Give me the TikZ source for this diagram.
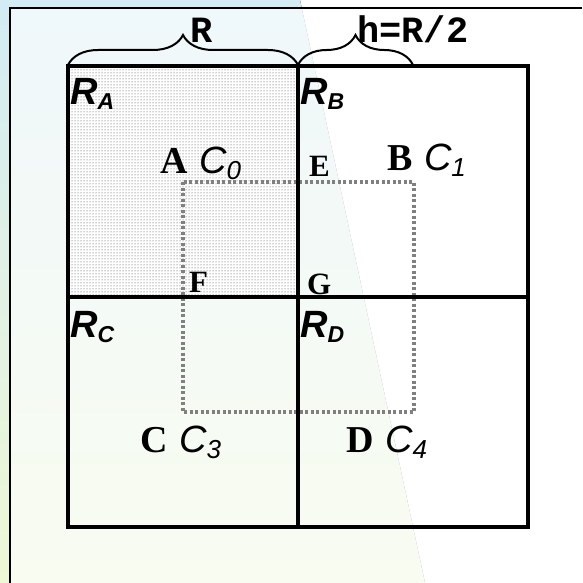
\documentclass[tikz,border=0pt]{standalone}
\usepackage{fontspec}
\usepackage{tikz}
\usetikzlibrary{patterns,decorations.pathreplacing}
\usepackage{xcolor}
\newfontfamily\quadsans{Liberation Sans}
\newfontfamily\quadserif{Liberation Serif}
\newfontfamily\quadmono{Liberation Mono}
\definecolor{quadSky}{HTML}{D3EBF3}
\definecolor{quadLime}{HTML}{EEF7D6}
\definecolor{quadDot}{HTML}{808080}
\newcommand{\quadsub}[3]{\raisebox{-#2pt}{\fontsize{#1}{#1}\selectfont #3}}

\begin{document}
\begin{tikzpicture}[x=1pt,y=-1pt,
  region/.style={anchor=base west,inner sep=0pt,font={\quadsans\bfseries\itshape\fontsize{38}{38}\selectfont}},
  corner/.style={anchor=base west,inner sep=0pt,font={\fontsize{38}{38}\selectfont}},
  midpt/.style={anchor=base west,inner sep=0pt,font={\quadserif\bfseries\fontsize{31}{31}\selectfont}},
  span/.style={anchor=base west,inner sep=0pt,font={\quadmono\bfseries\fontsize{37}{37}\selectfont}},
  bracket/.style={line width=2pt,decorate,decoration={brace,amplitude=30pt}}]
\useasboundingbox (0,0) rectangle (582,583);
% background
\fill[white] (0,0) rectangle (582,583);
\fill[top color=quadSky,bottom color=quadLime] (0,0) -- (300,0) -- (425,583) -- (0,583) -- cycle;
\fill[white,opacity=.65] (10,8) rectangle (582,583);
\draw[line width=2.5pt] (582,8) -- (10,8) -- (10,583);
% shaded quarter
\fill[white] (68,66) rectangle (298,297);
\fill[pattern=dots,pattern color=black!75] (68,66) rectangle (298,297);
% shifted square
\draw[quadDot,line width=3.5pt,dash pattern=on 3pt off 2.5pt] (183,182) rectangle (414,412);
% quarters
\draw[line width=3.2pt] (68,66) rectangle (528,527);
\draw[line width=3.2pt] (298,66) -- (298,527) (68,297) -- (528,297);
% braces
\coordinate (bl) at (68,65);
\coordinate (bm) at (298,65);
\coordinate (br) at (413,65);
\draw[bracket] (bl) -- (bm);
\draw[bracket] (bm) -- (br);
\node[span] (radius) at (190,43) {R};
\node[span] (half) at (357,43) {h=R/2};
% labels
\foreach \name/\sub/\x/\y in {rA/A/70/105,rB/B/300/105,rC/C/70/337,rD/D/300/337}
  \node[region] (\name) at (\x,\y) {R\quadsub{23}{5}{\sub}};
\foreach \name/\pt/\idx/\x/\y in {ptA/A/0/160/173,ptB/B/1/387/170,ptC/C/3/140/452,ptD/D/4/346/452}
  \node[corner] (\name) at (\x,\y) {{\quadserif\bfseries\pt} {\quadsans\itshape C\quadsub{26}{6}{\idx}}};
\foreach \name/\x/\y in {E/309/176,F/189/292,G/307/294}
  \node[midpt] (pt\name) at (\x,\y) {\name};
\end{tikzpicture}
\end{document}
